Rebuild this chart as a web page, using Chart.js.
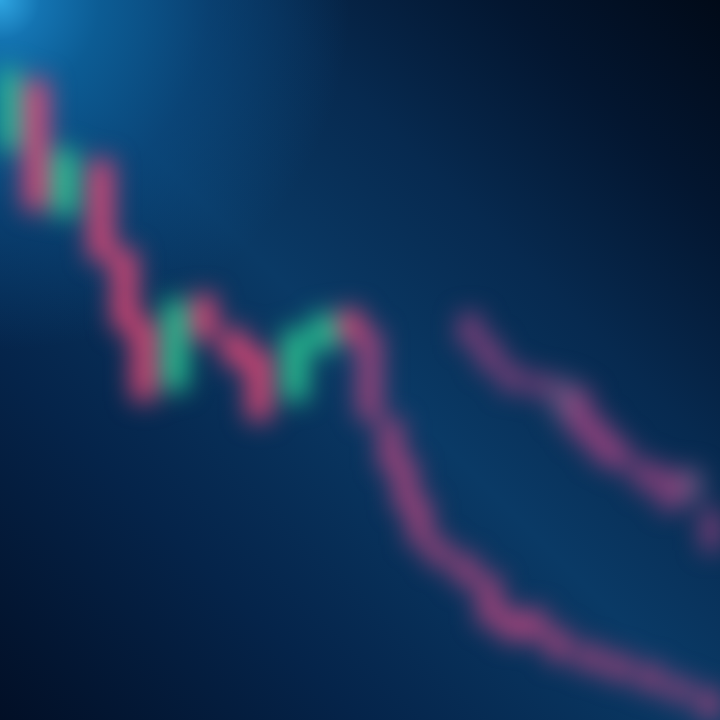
<!DOCTYPE html>
<html>
<head>
<meta charset="utf-8">
<script src="https://cdn.jsdelivr.net/npm/chart.js@4.4.1/dist/chart.umd.min.js"></script>
<style>
  html, body { margin: 0; padding: 0; }
  body {
    width: 720px; height: 720px; overflow: hidden;
    background:
      radial-gradient(circle at 0 0, #2fa6e2 0, #1474b2 40px, #0c5c94 100px, rgba(11,82,140,0.5) 210px, rgba(11,70,125,0) 350px),
      linear-gradient(45deg, #020f26 0%, #05244a 25%, #0a3a66 50%, #072a50 68%, #031630 85%, #010a18 100%);
  }
  #wrap { position: absolute; left: 0; top: 0; width: 720px; height: 720px; filter: blur(13px); }
</style>
</head>
<body>
<div id="wrap"><canvas id="chart" width="720" height="720"></canvas></div>
<script>
// main series: time, open, close
const mainTime = [0.3, 1.5, 2.7, 4.2, 5.2, 6.0, 7.3, 8.5, 9.8, 10.8, 12.3, 13.5, 14.6, 15.4, 16.3, 16.9, 17.5, 18.3, 19.4, 20.4, 21.3, 22.3, 23.3, 24.6, 25.8, 27.1, 28.3, 29.6];
const mainOpen = [79.2, 88.9, 70.1, 77.8, 65.3, 55.6, 45.8, 59.0, 54.2, 51.4, 44.4, 51.4, 56.9, 54.2, 41.7, 36.1, 30.6, 25.0, 22.9, 20.1, 15.3, 15.3, 12.5, 10.4, 9.0, 7.6, 5.6, 4.2];
const mainClose = [90.3, 70.8, 79.2, 63.9, 54.2, 44.4, 58.3, 52.8, 49.3, 41.7, 54.2, 56.3, 52.8, 41.7, 34.7, 29.2, 24.3, 21.5, 18.8, 13.2, 11.1, 11.1, 8.3, 6.9, 5.6, 4.2, 2.8, 0.3];

// second series
const sideTime = [19.6, 20.4, 21.3, 22.5, 23.5, 24.2, 25.0, 25.8, 26.9, 27.9, 28.8, 29.7];
const sideOpen = [56.3, 52.8, 49.3, 47.9, 47.2, 45.8, 41.7, 38.9, 36.1, 34.7, 34.7, 29.2];
const sideClose = [52.1, 48.6, 45.8, 45.1, 41.7, 38.9, 36.1, 34.7, 31.9, 29.2, 30.6, 23.6];

const UP = "rgb(45, 210, 150)";
const DOWN = "rgb(238, 72, 118)";
const FADED_DOWN = "rgba(205, 72, 130, 0.82)";
const SIDE_DOWN = "rgba(185, 70, 135, 0.8)";
const SIDE_FLAT = "rgba(150, 100, 145, 0.75)";

function candles(t, o, c) {
  return t.map((x, i) => ({ x: x, y: [o[i], c[i]] }));
}

function mainColor(i) {
  if (mainClose[i] > mainOpen[i]) return UP;
  return mainTime[i] > 15 ? FADED_DOWN : DOWN;
}

const ctx = document.getElementById("chart").getContext("2d");
new Chart(ctx, {
  type: "bar",
  data: {
    datasets: [
      {
        label: "main",
        data: candles(mainTime, mainOpen, mainClose),
        backgroundColor: mainTime.map((_, i) => mainColor(i)),
        barThickness: 22,
        borderSkipped: false,
      },
      {
        label: "side",
        data: candles(sideTime, sideOpen, sideClose),
        backgroundColor: sideTime.map((_, i) => (i === 4 || i === 10 ? SIDE_FLAT : SIDE_DOWN)),
        barThickness: 20,
        borderSkipped: false,
      },
    ],
  },
  options: {
    responsive: false,
    animation: false,
    layout: { padding: 0 },
    datasets: { bar: { grouped: false } },
    scales: {
      x: { type: "linear", min: 0, max: 30, offset: false, display: false },
      y: { min: 0, max: 100, display: false },
    },
    plugins: {
      legend: { display: false },
      tooltip: { enabled: false },
    },
  },
});
</script>
</body>
</html>
